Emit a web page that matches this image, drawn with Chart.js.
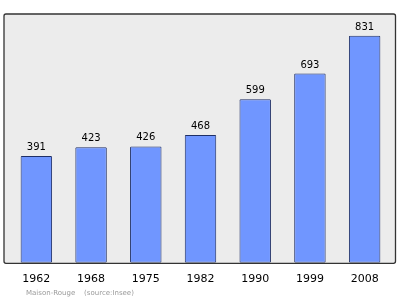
<!doctype html>
<html lang="fr">
<head>
    <meta charset="utf-8">
    <title>Maison-Rouge population</title>
    <script src="https://cdn.jsdelivr.net/npm/chart.js"></script>
    <style>
        html, body { margin: 0; padding: 0; background: #fff; }
        #wrap { width: 400px; height: 299px; }
    </style>
</head>
<body>
    <div id="wrap"><canvas id="popChart" width="400" height="299"></canvas></div>
    <script>
        // data
        const years = ['1962', '1968', '1975', '1982', '1990', '1999', '2008'];
        const population = [391, 423, 426, 468, 599, 693, 831];
        const footerText = 'Maison-Rouge    (source:Insee)';

        // grey frame behind the plot, a bit wider than the bar area
        const framePlugin = {
            id: 'frame',
            beforeDraw(chart) {
                const a = chart.chartArea;
                const ctx = chart.ctx;
                ctx.save();
                ctx.beginPath();
                ctx.roundRect(a.left - 5, a.top, a.right - a.left + 8.5, a.bottom - a.top + 0.5, 2);
                ctx.fillStyle = '#ececec';
                ctx.fill();
                ctx.restore();
            },
            afterDatasetsDraw(chart) {
                const a = chart.chartArea;
                const ctx = chart.ctx;
                ctx.save();
                ctx.beginPath();
                ctx.roundRect(a.left - 5, a.top, a.right - a.left + 8.5, a.bottom - a.top + 0.5, 2);
                ctx.strokeStyle = '#333';
                ctx.lineWidth = 1.3;
                ctx.stroke();

                // value labels over the bars
                const meta = chart.getDatasetMeta(0);
                ctx.fillStyle = '#000';
                ctx.font = '10px "DejaVu Sans"';
                ctx.textAlign = 'center';
                ctx.textBaseline = 'alphabetic';
                meta.data.forEach((bar, i) => {
                    ctx.fillText(String(population[i]), bar.x, bar.y - 6);
                });

                // source line
                ctx.fillStyle = '#9a9a9a';
                ctx.font = '7px "DejaVu Sans"';
                ctx.textAlign = 'left';
                ctx.fillText(footerText, 26, 295);
                ctx.restore();
            }
        };

        new Chart(document.getElementById('popChart'), {
            type: 'bar',
            data: {
                labels: years,
                datasets: [{
                    data: population,
                    backgroundColor: '#7096ff',
                    borderColor: '#1f2f66',
                    borderWidth: 1,
                    borderSkipped: false,
                    borderRadius: 1,
                    barPercentage: 0.575,
                    categoryPercentage: 1
                }]
            },
            options: {
                responsive: false,
                animation: false,
                layout: { padding: { left: 9, right: 8, top: 14, bottom: 3 } },
                scales: {
                    x: {
                        grid: { display: false, drawTicks: false },
                        border: { display: false },
                        ticks: {
                            color: '#000',
                            padding: 10,
                            font: { family: 'DejaVu Sans', size: 11 }
                        }
                    },
                    y: {
                        display: false,
                        min: 0,
                        max: 911
                    }
                },
                plugins: {
                    legend: { display: false },
                    tooltip: { enabled: false }
                }
            },
            plugins: [framePlugin]
        });
    </script>
</body>
</html>
